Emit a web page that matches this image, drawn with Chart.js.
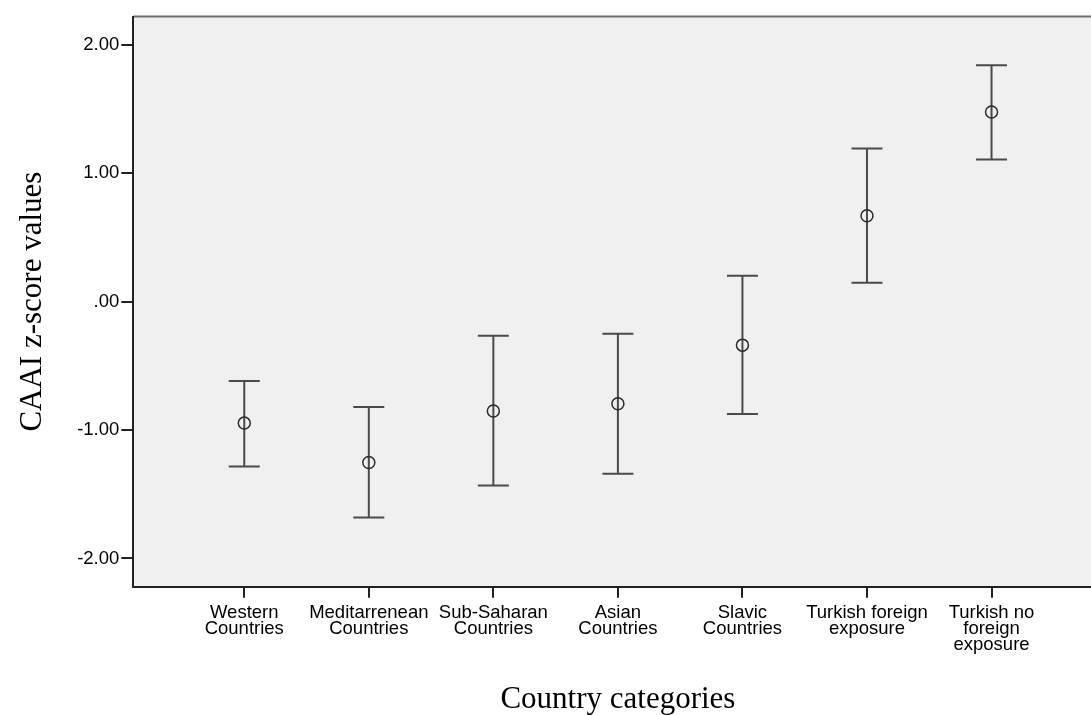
<!DOCTYPE html>
<html>
<head>
<meta charset="utf-8">
<script src="https://cdn.jsdelivr.net/npm/chart.js@4/dist/chart.umd.min.js"></script>
<style>
  html, body { margin: 0; padding: 0; background: #ffffff; overflow: hidden; }
  #wrap { width: 1110px; height: 715px; }
</style>
</head>
<body>
<div id="wrap"><canvas id="c" width="1110" height="715"></canvas></div>
<script>
// ---- data ----
const categories = [
  ['Western', 'Countries'],
  ['Meditarrenean', 'Countries'],
  ['Sub-Saharan', 'Countries'],
  ['Asian', 'Countries'],
  ['Slavic', 'Countries'],
  ['Turkish foreign', 'exposure'],
  ['Turkish no', 'foreign', 'exposure']
];
const means = [-0.946, -1.253, -0.852, -0.795, -0.339, 0.668, 1.477];
const upperCI = [-0.619, -0.821, -0.266, -0.251, 0.202, 1.192, 1.840];
const lowerCI = [-1.284, -1.681, -1.432, -1.341, -0.875, 0.146, 1.107];
const yTickValues = [-2, -1, 0, 1, 2];
const yTickLabels = ['-2.00', '-1.00', '.00', '1.00', '2.00'];
const xTitle = 'Country categories';
const yTitle = 'CAAI z-score values';

// ---- plugins ----
const plotBg = {
  id: 'plotBg',
  beforeDraw(chart) {
    const { ctx, chartArea: a } = chart;
    ctx.save();
    ctx.fillStyle = '#f0f0f0';
    ctx.fillRect(a.left, a.top, a.right - a.left, a.bottom - a.top);
    ctx.strokeStyle = '#6e6e6e';
    ctx.lineWidth = 2;
    ctx.beginPath();
    ctx.moveTo(a.left, a.top);
    ctx.lineTo(a.right, a.top);
    ctx.lineTo(a.right, a.bottom);
    ctx.stroke();
    ctx.restore();
  }
};

const errorBars = {
  id: 'errorBars',
  beforeDatasetsDraw(chart) {
    const { ctx, scales: { x, y } } = chart;
    ctx.save();
    ctx.strokeStyle = '#4a4a4a';
    ctx.lineWidth = 2;
    const half = 15.5;
    for (let i = 0; i < means.length; i++) {
      const px = x.getPixelForValue(i);
      const pu = y.getPixelForValue(upperCI[i]);
      const pl = y.getPixelForValue(lowerCI[i]);
      ctx.beginPath();
      ctx.moveTo(px, pu); ctx.lineTo(px, pl);
      ctx.moveTo(px - half, pu); ctx.lineTo(px + half, pu);
      ctx.moveTo(px - half, pl); ctx.lineTo(px + half, pl);
      ctx.stroke();
    }
    ctx.restore();
  }
};

new Chart(document.getElementById('c'), {
  type: 'scatter',
  data: {
    datasets: [{
      data: means.map((m, i) => ({ x: i, y: m })),
      pointStyle: 'circle',
      pointRadius: 6,
      pointHoverRadius: 6,
      borderColor: '#2a2a2a',
      borderWidth: 1.5,
      backgroundColor: 'rgba(0,0,0,0)'
    }]
  },
  options: {
    responsive: false,
    animation: false,
    events: [],
    layout: { padding: { top: 16.5, right: 7.3, left: 0, bottom: 0 } },
    plugins: { legend: { display: false }, tooltip: { enabled: false } },
    scales: {
      x: {
        type: 'linear',
        min: -0.891,
        max: 6.891,
        afterFit(s) { s.height = 128.3; },
        afterBuildTicks(s) { s.ticks = categories.map((_, i) => ({ value: i })); },
        ticks: {
          autoSkip: false,
          maxRotation: 0,
          padding: 7,
          color: '#000',
          font: { family: '"Liberation Sans", Arial, sans-serif', size: 18.5, lineHeight: '16px' },
          callback: (v) => categories[v]
        },
        grid: { drawOnChartArea: false, drawTicks: true, tickLength: 11, color: '#222', lineWidth: 2 },
        border: { display: true, color: '#222', width: 2 },
        title: {
          display: true,
          text: xTitle,
          color: '#000',
          font: { family: '"Liberation Serif", "Times New Roman", serif', size: 31, lineHeight: 1 },
          padding: { top: 0, bottom: 0 }
        }
      },
      y: {
        type: 'linear',
        min: -2.22,
        max: 2.22,
        afterFit(s) { s.width = 133.3; },
        afterBuildTicks(s) { s.ticks = yTickValues.map(v => ({ value: v })); },
        ticks: {
          padding: 2,
          color: '#000',
          font: { family: '"Liberation Sans", Arial, sans-serif', size: 18.5 },
          callback: (v) => yTickLabels[yTickValues.indexOf(v)]
        },
        grid: { drawOnChartArea: false, drawTicks: true, tickLength: 12, color: '#222', lineWidth: 2 },
        border: { display: true, color: '#222', width: 2 },
        title: {
          display: true,
          text: yTitle,
          color: '#000',
          font: { family: '"Liberation Serif", "Times New Roman", serif', size: 31, lineHeight: 1 },
          padding: { top: 17, bottom: 0 }
        }
      }
    }
  },
  plugins: [plotBg, errorBars]
});
</script>
</body>
</html>
